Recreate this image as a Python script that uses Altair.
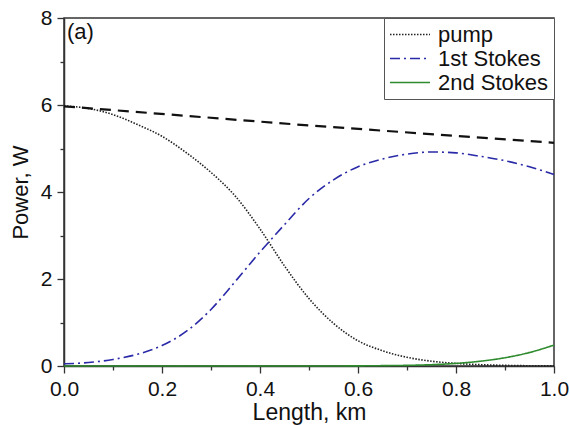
import altair as alt
import pandas as pd

x_km = [0.0, 0.05, 0.1, 0.15, 0.2, 0.25, 0.3, 0.35, 0.4, 0.45, 0.5,
        0.55, 0.6, 0.65, 0.7, 0.75, 0.8, 0.85, 0.9, 0.95, 1.0]
pump = [5.98, 5.92, 5.78, 5.55, 5.28, 4.90, 4.45, 3.90, 3.15, 2.30, 1.55,
        0.98, 0.58, 0.35, 0.20, 0.11, 0.06, 0.03, 0.015, 0.006, 0.002]
stokes1 = [0.05, 0.08, 0.15, 0.27, 0.47, 0.80, 1.30, 1.95, 2.62, 3.25, 3.85,
           4.28, 4.58, 4.76, 4.87, 4.92, 4.90, 4.82, 4.72, 4.58, 4.40]
stokes2 = [0.0, 0.0, 0.0, 0.0, 0.0, 0.0, 0.0, 0.0, 0.0, 0.0, 0.0,
           0.001, 0.003, 0.008, 0.015, 0.03, 0.06, 0.11, 0.19, 0.31, 0.48]
total_x = [0.0, 0.5, 1.0]
total = [5.97, 5.53, 5.13]

series_names = ["pump", "1st Stokes", "2nd Stokes"]
x_ticks = [0.0, 0.2, 0.4, 0.6, 0.8, 1.0]
x_minor = [0.1, 0.3, 0.5, 0.7, 0.9]
y_ticks = [0, 2, 4, 6, 8]
y_minor = [1, 3, 5, 7]

rows = []
for name, vals in zip(series_names, [pump, stokes1, stokes2]):
    for xv, yv in zip(x_km, vals):
        rows.append({"x": xv, "y": yv, "series": name})
df = pd.DataFrame(rows)
df_total = pd.DataFrame({"x": total_x, "y": total})

FONT = "Liberation Sans"
TXT = "#111111"
xscale = alt.Scale(domain=[0, 1], nice=False, zero=False)
yscale = alt.Scale(domain=[0, 8], nice=False)

common = dict(labelFont=FONT, titleFont=FONT, labelColor=TXT, titleColor=TXT,
              titleFontWeight="normal", grid=False, tickColor="#333",
              tickWidth=1.3, domainColor="#333", domainWidth=1.5,
              labelFlush=False)

lines = alt.Chart(df).mark_line(interpolate="monotone", strokeWidth=1.6).encode(
    x=alt.X("x:Q", scale=xscale,
            axis=alt.Axis(values=x_ticks, format=".1f", title="Length, km",
                          tickSize=7, orient="bottom", labelFontSize=21,
                          titleFontSize=23, labelPadding=5, titlePadding=2,
                          **common)),
    y=alt.Y("y:Q", scale=yscale,
            axis=alt.Axis(values=y_ticks, format="d", title="Power, W",
                          tickSize=7, orient="left", labelFontSize=21,
                          titleFontSize=22, labelPadding=5, titlePadding=8,
                          **common)),
    color=alt.Color("series:N",
                    scale=alt.Scale(domain=series_names,
                                    range=["#222222", "#2a2aa8", "#2e8b2e"]),
                    legend=alt.Legend(title=None, orient="top-right", offset=0,
                                      symbolType="M-1,0H1", symbolSize=1600,
                                      symbolStrokeWidth=1.6,
                                      labelFontSize=22, labelFont=FONT,
                                      labelColor=TXT, clipHeight=23,
                                      fillColor="white", strokeColor="#555",
                                      padding=5, rowPadding=1, labelOffset=7)),
    strokeDash=alt.StrokeDash("series:N",
                              scale=alt.Scale(domain=series_names,
                                              range=[[1.5, 1.5], [10, 4, 2, 4], [1, 0]]),
                              legend=alt.Legend(title=None, orient="top-right")),
    order="x:Q",
)

dashed = alt.Chart(df_total).mark_line(color="#111", strokeWidth=2.2,
                                       strokeDash=[11, 7]).encode(
    x=alt.X("x:Q", scale=xscale,
            axis=alt.Axis(values=x_minor, labels=False, title=None, tickSize=4,
                          domain=False, orient="bottom", **common)),
    y=alt.Y("y:Q", scale=yscale,
            axis=alt.Axis(values=y_minor, labels=False, title=None, tickSize=4,
                          domain=False, orient="left", **common)),
)

label = alt.Chart(pd.DataFrame({"t": ["(a)"]})).mark_text(
    font=FONT, fontSize=22, align="left", baseline="middle", color=TXT
).encode(x=alt.value(3), y=alt.value(14), text="t:N")

chart = alt.layer(lines, dashed, label).resolve_axis(
    x="independent", y="independent"
).properties(
    width=490, height=348,
    autosize=alt.AutoSizeParams(type="none"),
    padding={"left": 64, "top": 18, "right": 16, "bottom": 59},
).configure_view(
    stroke="#333", strokeWidth=1.5
)

chart.save("out.html", embed_options={"renderer": "svg", "actions": False})
